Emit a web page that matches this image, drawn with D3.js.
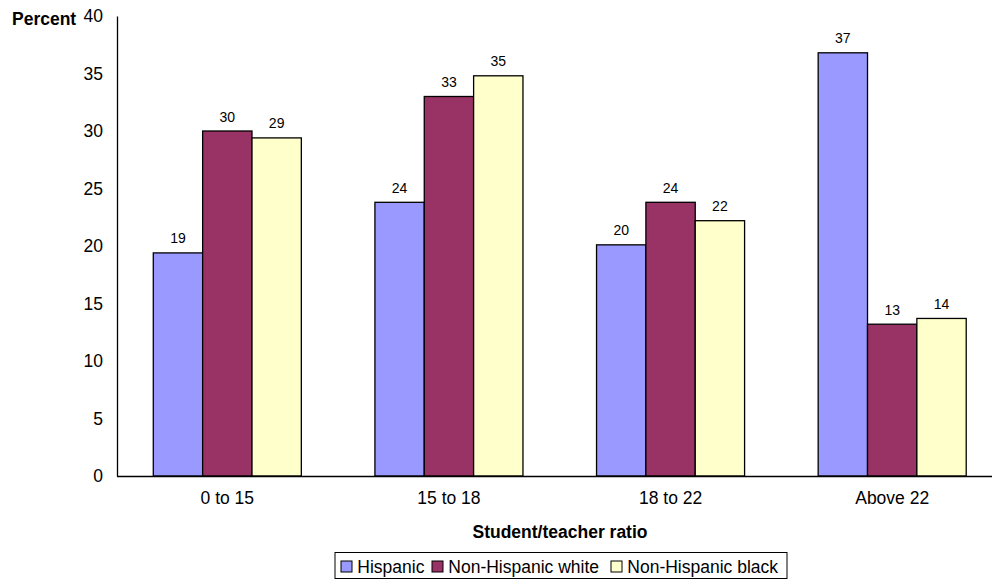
<!DOCTYPE html>
<html>
<head>
<meta charset="utf-8">
<script src="https://cdn.jsdelivr.net/npm/d3@7"></script>
<style>
html,body{margin:0;padding:0;background:#fff;}
svg{display:block;font-family:"Liberation Sans",Arial,sans-serif;}
</style>
</head>
<body>
<svg id="chart" width="992" height="582"></svg>
<script>
const categories = ["0 to 15", "15 to 18", "18 to 22", "Above 22"];
const seriesNames = ["Hispanic", "Non-Hispanic white", "Non-Hispanic black"];
const hispanic = [19.4, 23.8, 20.1, 36.8];
const nhWhite = [30.0, 33.0, 23.8, 13.2];
const nhBlack = [29.4, 34.8, 22.2, 13.7];
const yTicks = [0, 5, 10, 15, 20, 25, 30, 35, 40];
const colors = ["#9999FF", "#993366", "#FFFFCC"];

const seriesValues = [hispanic, nhWhite, nhBlack];
const svg = d3.select("#chart");

const x = d3.scaleBand().domain(categories).range([116.5, 1003]).paddingInner(0.332).paddingOuter(0.166);
const xs = d3.scaleBand().domain(seriesNames).range([0, x.bandwidth()]);
const y = d3.scaleLinear().domain([0, 40]).range([476, 16]);

// bars
const groups = svg.append("g").selectAll("g").data(categories).join("g")
  .attr("transform", d => `translate(${x(d)},0)`);
groups.selectAll("rect").data((c, i) => seriesNames.map((s, j) => ({s, v: seriesValues[j][i], j})))
  .join("rect")
  .attr("x", d => xs(d.s))
  .attr("width", xs.bandwidth())
  .attr("y", d => y(d.v))
  .attr("height", d => y(0) - y(d.v))
  .attr("fill", d => colors[d.j])
  .attr("stroke", "#000").attr("stroke-width", 1.3);
groups.selectAll("text").data((c, i) => seriesNames.map((s, j) => ({s, v: seriesValues[j][i]})))
  .join("text")
  .attr("x", d => xs(d.s) + xs.bandwidth() / 2)
  .attr("y", d => y(d.v) - 9.5)
  .attr("text-anchor", "middle")
  .attr("font-size", 14)
  .attr("fill", "#000")
  .text(d => Math.round(d.v));

// y axis
const yAxis = svg.append("g").attr("transform", "translate(117,0)")
  .call(d3.axisLeft(y).tickValues(yTicks).tickSize(0).tickPadding(14));
yAxis.select(".domain").attr("stroke", "#000").attr("stroke-width", 1.3);
yAxis.selectAll("text").attr("font-size", 17.5).attr("font-family", "Liberation Sans, Arial, sans-serif").attr("fill", "#000");

// x axis
const xAxis = svg.append("g").attr("transform", `translate(0,${y(0)})`)
  .call(d3.axisBottom(x).tickSize(0).tickPadding(16));
xAxis.select(".domain").attr("stroke", "#000").attr("stroke-width", 1.3);
xAxis.selectAll("text").attr("font-size", 17.5).attr("font-family", "Liberation Sans, Arial, sans-serif").attr("fill", "#000");

// titles
svg.append("text").attr("x", 12).attr("y", 25).attr("font-size", 17.5).attr("font-weight", "bold").text("Percent");
svg.append("text").attr("x", 560).attr("y", 538).attr("text-anchor", "middle")
  .attr("font-size", 17.5).attr("font-weight", "bold").text("Student/teacher ratio");

// legend
const leg = svg.append("g");
leg.append("rect").attr("x", 335).attr("y", 552.5).attr("width", 452).attr("height", 26)
  .attr("fill", "#fff").attr("stroke", "#000").attr("stroke-width", 1);
const legX = [341, 432, 611];
seriesNames.forEach((s, i) => {
  leg.append("rect").attr("x", legX[i]).attr("y", 561).attr("width", 11).attr("height", 11)
    .attr("fill", colors[i]).attr("stroke", "#000").attr("stroke-width", 1);
  leg.append("text").attr("x", legX[i] + 16.3).attr("y", 572.5).attr("font-size", 17.5).text(s);
});
</script>
</body>
</html>
